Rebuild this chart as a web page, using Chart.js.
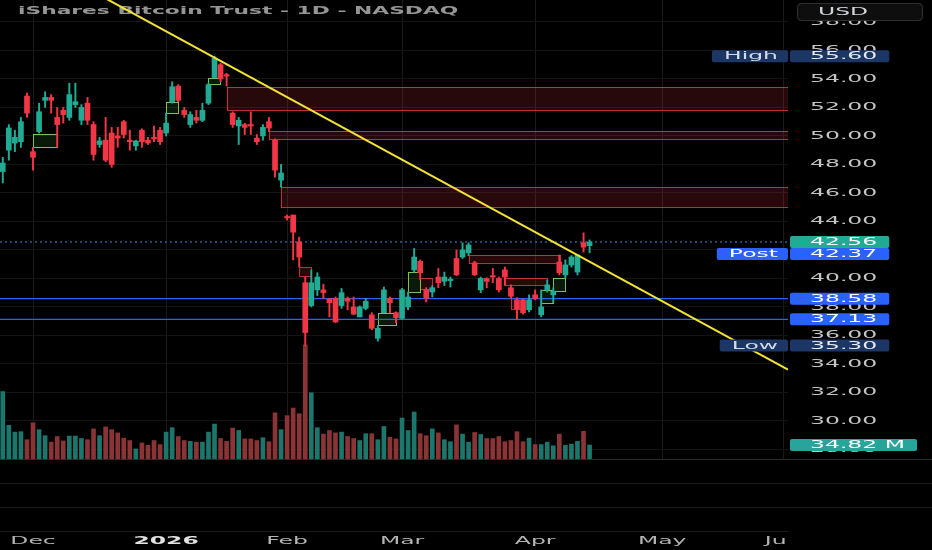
<!DOCTYPE html>
<html>
<head>
<meta charset="utf-8">
<script src="https://cdn.jsdelivr.net/npm/chart.js@4.4.1/dist/chart.umd.min.js"></script>
<style>
html,body{margin:0;padding:0;background:#000;overflow:hidden;}
#wrap{width:932px;height:550px;position:relative;}
</style>
</head>
<body>
<div id="wrap"><canvas id="c" width="932" height="550"></canvas></div>
<script>
// ---------- data (trading-day index: 0 = 1 Dec 2025) ----------
const firstIndex = -5;
const opens = [
  47.5, 49.0, 49.5, 49.6, 52.8,
  48.9, 50.3, 52.5, 52.7, 51.3, 51.8, 51.3, 52.2, 51.1, 52.3,
  50.8, 49.4, 49.7, 50.2, 50.0, 51.0, 49.7, 49.3, 50.4, 49.7,
  49.9, 50.4, 50.2, 52.4, 53.5, 51.8, 50.8, 51.3, 51.1, 52.3,
  54.1, 55.0, 54.3, 51.6, 50.7, 50.8, 50.8, 49.85, 50.0, 51.0,
  49.7, 46.9, 44.35, 44.45, 42.56, 39.7, 38.1, 39.2, 39.2, 38.55,
  38.6, 38.1, 38.6, 38.0, 37.3, 37.9, 37.45, 35.8, 37.6, 38.6,
  37.6, 37.2, 38.0, 40.6, 41.2, 39.2, 39.05, 40.1, 39.8, 39.85,
  41.4, 41.5, 41.8, 41.1, 39.2, 40.0, 40.2, 40.0, 40.6, 39.35,
  38.5, 38.5, 37.8, 38.85, 37.45, 39.2, 38.85, 41.15, 40.25, 40.95,
  40.45, 42.5, 42.3
];
const highs = [
  48.5, 50.8, 50.4, 51.3, 53.0,
  49.2, 52.3, 53.1, 52.9, 52.0, 52.0, 53.7, 53.7, 52.2, 52.7,
  51.0, 49.9, 51.3, 50.6, 50.6, 51.1, 50.4, 49.7, 50.5, 49.9,
  50.7, 50.6, 51.6, 53.8, 53.6, 52.0, 51.7, 51.8, 52.3, 53.7,
  55.6, 55.1, 54.4, 51.7, 51.3, 50.9, 51.7, 50.1, 50.8, 51.3,
  49.8, 48.0, 44.45, 44.45, 42.9, 40.1, 40.6, 40.4, 39.6, 38.6,
  38.7, 39.3, 38.7, 38.7, 38.07, 38.6, 37.6, 36.7, 39.4, 38.7,
  37.65, 39.3, 39.05, 42.1, 41.3, 39.35, 39.5, 40.7, 40.45, 40.1,
  42.0, 42.5, 42.5, 41.2, 40.1, 40.05, 40.7, 40.1, 40.8, 39.55,
  38.65, 38.55, 38.85, 39.2, 39.2, 39.9, 39.35, 41.65, 41.3, 41.6,
  41.65, 43.2, 42.7
];
const lows = [
  46.7, 48.3, 48.9, 49.2, 51.3,
  47.6, 50.2, 52.0, 51.6, 49.2, 50.9, 51.1, 52.0, 50.8, 50.8,
  48.3, 49.2, 48.2, 47.8, 49.2, 49.85, 49.0, 49.0, 49.2, 49.4,
  49.6, 49.4, 50.0, 52.3, 52.4, 51.3, 50.6, 50.9, 51.0, 52.2,
  54.1, 53.8, 53.5, 50.6, 49.4, 50.1, 50.1, 49.4, 49.7, 50.3,
  47.1, 46.4, 44.1, 41.3, 40.8, 35.3, 38.0, 38.8, 38.6, 37.3,
  36.9, 37.9, 37.8, 37.45, 37.3, 37.8, 36.4, 35.6, 37.6, 37.6,
  36.9, 37.15, 37.8, 40.45, 39.9, 38.35, 38.7, 39.35, 39.5, 39.4,
  40.2, 41.4, 41.6, 40.2, 39.0, 39.35, 39.7, 39.05, 39.5, 38.6,
  37.15, 37.5, 37.65, 38.5, 37.3, 39.05, 38.3, 40.25, 40.03, 40.8,
  40.25, 41.85, 41.8
];
const closes = [
  48.1, 50.56, 49.9, 51.0, 51.6,
  48.5, 51.7, 52.7, 52.5, 50.8, 51.5, 52.9, 52.4, 52.0, 51.1,
  48.7, 49.65, 48.3, 48.0, 49.85, 50.1, 49.6, 49.65, 49.6, 49.5,
  49.8, 49.6, 50.9, 53.45, 52.5, 51.5, 51.5, 51.1, 51.8, 53.6,
  55.45, 54.0, 54.2, 50.8, 51.1, 50.6, 50.7, 49.6, 50.6, 50.55,
  47.6, 47.4, 44.25, 43.25, 41.5, 36.2, 39.7, 40.1, 39.0, 38.3,
  36.95, 39.0, 38.4, 37.5, 38.0, 38.4, 36.5, 36.5, 39.2, 38.3,
  37.25, 39.2, 38.7, 41.5, 40.4, 38.6, 39.35, 39.7, 40.1, 39.95,
  40.25, 42.0, 42.35, 40.25, 40.0, 39.8, 40.1, 39.2, 40.1, 38.75,
  37.85, 37.6, 38.5, 38.6, 38.0, 39.55, 39.1, 40.4, 40.95, 41.5,
  41.65, 42.2, 42.56
];
const volumes = [ // millions
  168, 84, 67, 68, 48,
  90, 73, 58, 42, 56, 45, 57, 57, 51, 48,
  75, 58, 80, 73, 65, 52, 46, 25, 40, 34,
  46, 36, 67, 78, 56, 46, 44, 42, 42, 67,
  87, 51, 44, 77, 71, 50, 50, 46, 53, 43,
  115, 73, 108, 127, 113, 284, 165, 78, 62, 71,
  65, 67, 56, 51, 46, 63, 63, 48, 81, 54,
  50, 102, 71, 117, 63, 58, 75, 65, 48, 43,
  85, 62, 42, 66, 61, 51, 51, 56, 43, 46,
  68, 43, 52, 36, 36, 42, 33, 62, 34, 37,
  44, 69, 34.82
];
const monthTickIndex = [0, 22, 42, 61, 83, 104, 124];
const monthTickLabels = ['Dec', '2026', 'Feb', 'Mar', 'Apr', 'May', 'Jun'];
const priceTicks = [28, 30, 32, 34, 36, 38, 40, 42, 44, 46, 48, 50, 52, 54, 56, 58];
const supportLevels = [38.58, 37.13];
const lastPrice = 42.56;
const postPrice = 42.37;
const highPrice = 55.60;
const lowPrice = 35.30;
const lastVolume = 34.82;
const trendIndex = [12, 124.8];
const trendPrice = [59.65, 33.6];
// [fromIndex, toIndex (null = open to the right), top, bottom]
const bullZones = [
  [0, 4, 50.14, 49.23], [22, 24, 52.4, 51.6], [29, 31, 54.07, 53.65],
  [57, 60, 37.58, 36.74], [62, 64, 40.45, 39.05], [84, 86, 39.2, 38.3], [86, 88, 40.03, 39.12]
];
const bearZones = [
  [32, null, 53.44, 51.82], [39, null, 50.35, 49.79], [41, null, 46.42, 45.02],
  [44, 46, 40.8, 40.2], [64, 66, 40.0, 39.2], [72, 87, 41.65, 41.1],
  [78, 85, 40.03, 39.54], [79, 81, 38.6, 37.86]
];

// ---------- axis ranges ----------
const X_MIN = -5.46, X_MAX = 124.8, Y_MIN = 27.33, Y_MAX = 59.54, VOL_MAX = 1143;

// ---------- styles ----------
const UP = '#22ab94', DOWN = '#f23645';
const VOL_UP = '#1c766c', VOL_DOWN = '#8a3436';
const FONT = 'DejaVu Sans';
Chart.defaults.font.family = FONT;

// ---------- derived ----------
const xIdx = opens.map((_, k) => k + firstIndex);
const isUp = closes.map((c, k) => c >= opens[k]);
const candleColor = isUp.map(u => u ? UP : DOWN);
const volColor = isUp.map(u => u ? VOL_UP : VOL_DOWN);

// horizontally widened text, as in the reference screenshot
const canvas = document.getElementById('c');
const g = canvas.getContext('2d');
const rawFillText = g.fillText;
g.textStretch = 1;
g.fillText = function (t, x, y, mw) {
  const s = this.textStretch || 1;
  if (s === 1) return rawFillText.call(this, t, x, y, mw);
  this.save();
  this.translate(x, y);
  this.scale(s, 1);
  rawFillText.call(this, t, 0, 0);
  this.restore();
};

function rrect(ctx, x, y, w, h, r) {
  ctx.beginPath();
  if (ctx.roundRect) ctx.roundRect(x, y, w, h, r); else ctx.rect(x, y, w, h);
  ctx.fill();
}

const deco = {
  id: 'deco',
  beforeDraw(chart) {
    const { ctx, chartArea: a } = chart;
    ctx.save();
    ctx.fillStyle = '#000';
    ctx.fillRect(0, 0, chart.width, chart.height);
    ctx.lineWidth = 1;
    ctx.strokeStyle = '#2c2c2c';
    ctx.beginPath(); ctx.moveTo(0, a.bottom + 0.5); ctx.lineTo(chart.width, a.bottom + 0.5); ctx.stroke();
    ctx.strokeStyle = '#1c1c1c';
    [24, 48, 72].forEach(d => {
      ctx.beginPath(); ctx.moveTo(0, a.bottom + d + 0.5); ctx.lineTo(d === 72 ? a.right : chart.width, a.bottom + d + 0.5); ctx.stroke();
    });
    ctx.restore();
    ctx.textStretch = 2.35;
  },
  beforeDatasetsDraw(chart) {
    const { ctx, chartArea: a, scales } = chart;
    const xs = scales.x, ys = scales.y;
    ctx.save();
    ctx.beginPath(); ctx.rect(a.left, a.top, a.right - a.left, a.bottom - a.top); ctx.clip();
    const zone = (z, fill, stroke) => {
      const x0 = xs.getPixelForValue(z[0]);
      const x1 = z[1] === null ? a.right : xs.getPixelForValue(z[1]);
      const y0 = ys.getPixelForValue(z[2]);
      const y1 = ys.getPixelForValue(z[3]);
      ctx.fillStyle = fill;
      ctx.fillRect(x0, y0, x1 - x0, y1 - y0);
      ctx.strokeStyle = stroke; ctx.lineWidth = 1;
      ctx.strokeRect(Math.round(x0) + 0.5, Math.round(y0) + 0.5, Math.round(x1 - x0), Math.round(y1 - y0));
    };
    bearZones.forEach(z => zone(z, 'rgba(242,54,69,0.16)', 'rgba(235,60,72,0.8)'));
    bullZones.forEach(z => zone(z, 'rgba(76,175,80,0.14)', '#7cc24f'));
    ctx.restore();
    // title
    ctx.save();
    ctx.textStretch = 1.98;
    ctx.font = 'bold 11px ' + FONT;
    ctx.fillStyle = 'rgba(175,175,175,0.85)';
    ctx.textAlign = 'left'; ctx.textBaseline = 'middle';
    ctx.fillText('iShares Bitcoin Trust - 1D - NASDAQ', 18, 11.5);
    ctx.restore();
    ctx.textStretch = 2.35;
  },
  afterDraw(chart) {
    const { ctx, chartArea: a, scales } = chart;
    const ys = scales.y, yv = scales.yv;
    const S = 2.35;
    ctx.save();
    ctx.textStretch = S;
    ctx.font = '10px ' + FONT;
    ctx.textBaseline = 'middle';
    // mask label overflow into price scale (clipped "Jun")
    ctx.fillStyle = '#000';
    ctx.fillRect(a.right, a.bottom + 73, chart.width - a.right, chart.height - a.bottom - 73);
    const H = 12;
    const valueBadge = (yc, text, bg, fg) => {
      const tw = ctx.measureText(text).width * S;
      ctx.fillStyle = bg;
      rrect(ctx, a.right + 2, yc - H / 2, tw + 32, H, 2);
      ctx.fillStyle = fg; ctx.textAlign = 'left';
      ctx.fillText(text, a.right + 22, yc + 0.5);
    };
    const tagBadge = (yc, text, bg, fg) => {
      const tw = ctx.measureText(text).width * S;
      const w = tw + 22;
      ctx.fillStyle = bg;
      rrect(ctx, a.right - w, yc - H / 2, w, H, 2);
      ctx.fillStyle = fg; ctx.textAlign = 'left';
      ctx.fillText(text, a.right - w + 12, yc + 0.5);
    };
    const NAVY = '#1c3766';
    const yH = ys.getPixelForValue(highPrice);
    tagBadge(yH, 'High', NAVY, '#d6dbe6');
    valueBadge(yH, highPrice.toFixed(2), NAVY, '#e6e9f0');
    const yL = ys.getPixelForValue(lastPrice);
    valueBadge(yL, lastPrice.toFixed(2), UP, '#ffffff');
    const yP = Math.max(ys.getPixelForValue(postPrice), yL + H);
    tagBadge(yP, 'Post', '#2962ff', '#ffffff');
    valueBadge(yP, postPrice.toFixed(2), '#2962ff', '#ffffff');
    supportLevels.forEach(v => valueBadge(ys.getPixelForValue(v), v.toFixed(2), '#2962ff', '#ffffff'));
    const yLo = ys.getPixelForValue(lowPrice);
    tagBadge(yLo, 'Low', NAVY, '#d6dbe6');
    valueBadge(yLo, lowPrice.toFixed(2), NAVY, '#e6e9f0');
    valueBadge(yv.getPixelForValue(lastVolume), lastVolume.toFixed(2) + ' M', '#26a69a', '#ffffff');
    // currency box
    ctx.fillStyle = '#0e0e0e';
    rrect(ctx, 797, 3, 126, 18, 4);
    ctx.strokeStyle = '#2e2e2e'; ctx.lineWidth = 1;
    ctx.beginPath(); if (ctx.roundRect) ctx.roundRect(797.5, 3.5, 125, 17, 4); ctx.stroke();
    ctx.fillStyle = '#d1d4dc'; ctx.textAlign = 'left';
    ctx.fillText('USD', 818, 12.5);
    ctx.restore();
    ctx.textStretch = 1;
  }
};

const lineData = (xsArr, ysArr) => xsArr.map((x, k) => ({ x, y: ysArr[k] }));

new Chart(canvas, {
  type: 'bar',
  data: {
    datasets: [
      {
        type: 'line', label: 'trend', yAxisID: 'y', order: 0,
        data: lineData(trendIndex, trendPrice),
        borderColor: '#f4e431', borderWidth: 2, pointRadius: 0, tension: 0
      },
      ...supportLevels.map(v => ({
        type: 'line', label: 'level ' + v, yAxisID: 'y', order: 3,
        data: lineData([X_MIN, X_MAX], [v, v]),
        borderColor: '#2962ff', borderWidth: 1.2, pointRadius: 0
      })),
      {
        type: 'line', label: 'last', yAxisID: 'y', order: 3,
        data: lineData([X_MIN, X_MAX], [lastPrice, lastPrice]),
        borderColor: '#2f5e96', borderWidth: 1.5, borderDash: [2, 3], pointRadius: 0
      },
      {
        label: 'body', yAxisID: 'y', order: 1, grouped: false,
        data: xIdx.map((x, k) => ({ x, y: [opens[k], closes[k]] })),
        backgroundColor: candleColor, barThickness: 5, minBarLength: 1, borderWidth: 0
      },
      {
        label: 'wick', yAxisID: 'y', order: 2, grouped: false,
        data: xIdx.map((x, k) => ({ x, y: [lows[k], highs[k]] })),
        backgroundColor: candleColor, barThickness: 1.3, borderWidth: 0
      },
      {
        label: 'volume', yAxisID: 'yv', order: 6, grouped: false,
        data: xIdx.map((x, k) => ({ x, y: volumes[k] })),
        backgroundColor: volColor, barThickness: 4, borderWidth: 0
      }
    ]
  },
  options: {
    responsive: false,
    animation: false,
    events: [],
    layout: { padding: 0, autoPadding: false },
    plugins: { legend: { display: false }, tooltip: { enabled: false }, title: { display: false } },
    scales: {
      x: {
        type: 'linear', min: X_MIN, max: X_MAX, offset: false,
        afterBuildTicks: s => { s.ticks = monthTickIndex.map(v => ({ value: v })); },
        afterFit: s => { s.height = 91; s.paddingLeft = 0; s.paddingRight = 0; },
        grid: { color: '#1a1a1a', drawTicks: true, tickLength: 76, tickColor: 'rgba(0,0,0,0)', offset: false },
        border: { display: false },
        ticks: {
          autoSkip: false, maxRotation: 0, minRotation: 0, padding: 0,
          callback: v => { const k = monthTickIndex.indexOf(v); return k >= 0 ? monthTickLabels[k] : ''; },
          color: c => (c.tick && c.tick.value === 22) ? '#e2e2e2' : '#b4b4b4',
          font: c => ({ family: FONT, size: 10, weight: (c.tick && c.tick.value === 22) ? 'bold' : 'normal' })
        }
      },
      y: {
        type: 'linear', position: 'right', min: Y_MIN, max: Y_MAX,
        afterBuildTicks: s => { s.ticks = priceTicks.map(v => ({ value: v })); },
        afterFit: s => { s.width = 144; s.paddingTop = 0; s.paddingBottom = 0; },
        grid: { color: '#141414', drawTicks: true, tickLength: 22, tickColor: 'rgba(0,0,0,0)' },
        border: { display: false },
        ticks: { padding: 0, color: '#c4c4c4', font: { family: FONT, size: 10 }, callback: v => Number(v).toFixed(2) }
      },
      yv: { type: 'linear', display: false, min: 0, max: VOL_MAX }
    }
  },
  plugins: [deco]
});
</script>
</body>
</html>
